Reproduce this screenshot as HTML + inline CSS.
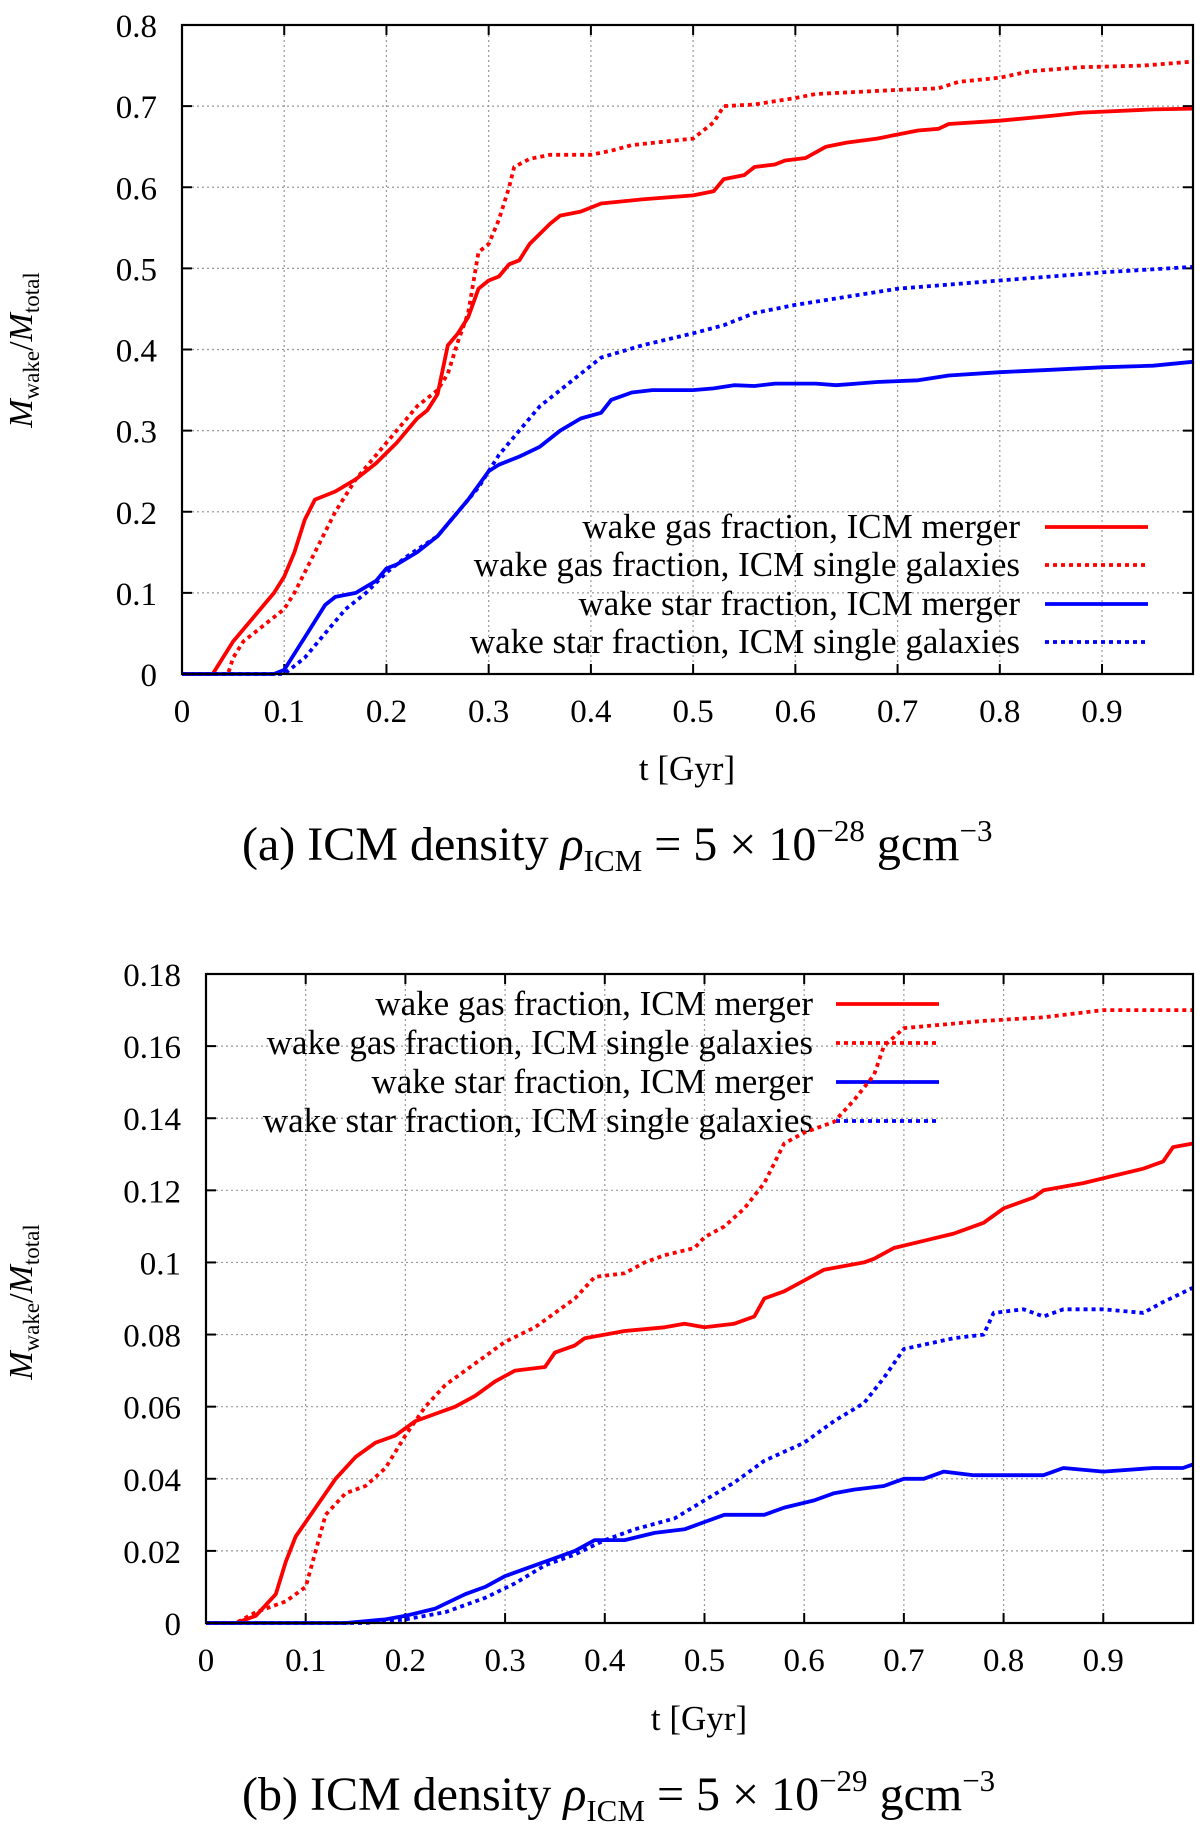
<!DOCTYPE html>
<html><head><meta charset="utf-8">
<style>
html,body{margin:0;padding:0;background:#fff;}
svg text{font-family:"Liberation Serif",serif;fill:#000;}
</style></head>
<body>
<svg id="fig" width="1200" height="1824" viewBox="0 0 1200 1824" xmlns="http://www.w3.org/2000/svg">
<g id="panelA"></g>
<g id="panelB"></g>
<text x="242" y="860" font-size="48">(a)  ICM density <tspan font-style="italic">ρ</tspan><tspan font-size="31" dy="11">ICM</tspan><tspan dy="-11"> = 5 × 10</tspan><tspan font-size="31" dy="-19">−28</tspan><tspan dy="19"> gcm</tspan><tspan font-size="31" dy="-19">−3</tspan></text>
<text x="242" y="1810" font-size="48">(b)  ICM density <tspan font-style="italic">ρ</tspan><tspan font-size="31" dy="11">ICM</tspan><tspan dy="-11"> = 5 × 10</tspan><tspan font-size="31" dy="-19">−29</tspan><tspan dy="19"> gcm</tspan><tspan font-size="31" dy="-19">−3</tspan></text>
</svg>
<script>
// ---- Panel A data ----
const aGasMergerT = [0,0.03,0.04,0.05,0.07,0.09,0.1,0.11,0.12,0.13,0.15,0.17,0.19,0.21,0.23,0.24,0.25,0.26,0.27,0.28,0.29,0.3,0.31,0.32,0.33,0.34,0.36,0.37,0.39,0.41,0.45,0.5,0.52,0.53,0.55,0.56,0.58,0.59,0.61,0.63,0.65,0.68,0.7,0.72,0.74,0.75,0.8,0.85,0.88,0.95,0.99];
const aGasMergerV = [0,0,0.02,0.04,0.07,0.1,0.12,0.15,0.19,0.215,0.225,0.24,0.26,0.285,0.315,0.325,0.345,0.405,0.42,0.44,0.475,0.485,0.49,0.505,0.51,0.53,0.555,0.565,0.57,0.58,0.585,0.59,0.595,0.61,0.615,0.625,0.628,0.633,0.636,0.65,0.655,0.66,0.665,0.67,0.672,0.678,0.682,0.688,0.692,0.696,0.697];
const aGasSingleT = [0,0.045,0.05,0.06,0.08,0.1,0.11,0.13,0.15,0.17,0.19,0.21,0.23,0.25,0.26,0.27,0.28,0.29,0.3,0.31,0.32,0.325,0.34,0.36,0.4,0.42,0.44,0.47,0.5,0.52,0.53,0.56,0.6,0.62,0.7,0.74,0.76,0.8,0.83,0.88,0.94,0.99];
const aGasSingleV = [0,0,0.02,0.04,0.06,0.08,0.1,0.15,0.2,0.24,0.27,0.3,0.33,0.35,0.37,0.41,0.445,0.52,0.53,0.56,0.6,0.625,0.635,0.64,0.64,0.645,0.652,0.656,0.66,0.68,0.7,0.702,0.71,0.715,0.72,0.722,0.73,0.735,0.743,0.748,0.75,0.755];
const aStarMergerT = [0,0.09,0.1,0.11,0.12,0.13,0.14,0.15,0.17,0.19,0.2,0.21,0.23,0.25,0.26,0.27,0.28,0.3,0.31,0.33,0.35,0.37,0.39,0.41,0.42,0.44,0.46,0.5,0.52,0.54,0.56,0.58,0.62,0.64,0.66,0.68,0.72,0.75,0.8,0.85,0.9,0.95,0.99];
const aStarMergerV = [0,0,0.005,0.025,0.045,0.065,0.085,0.095,0.1,0.115,0.13,0.135,0.15,0.17,0.185,0.2,0.215,0.25,0.258,0.268,0.28,0.3,0.315,0.322,0.338,0.347,0.35,0.35,0.352,0.356,0.355,0.358,0.358,0.356,0.358,0.36,0.362,0.368,0.372,0.375,0.378,0.38,0.385];
const aStarSingleT = [0,0.1,0.12,0.14,0.16,0.18,0.2,0.22,0.25,0.27,0.29,0.31,0.33,0.35,0.37,0.39,0.41,0.45,0.5,0.53,0.56,0.6,0.65,0.7,0.75,0.8,0.85,0.9,0.99];
const aStarSingleV = [0,0,0.02,0.05,0.08,0.1,0.125,0.145,0.17,0.2,0.23,0.27,0.3,0.33,0.35,0.37,0.39,0.405,0.42,0.43,0.445,0.455,0.465,0.475,0.48,0.485,0.49,0.495,0.502];
const aYTicks = [0,0.1,0.2,0.3,0.4,0.5,0.6,0.7,0.8];
const aYTickLabels = ["0","0.1","0.2","0.3","0.4","0.5","0.6","0.7","0.8"];
// ---- Panel B data ----
const bGasMergerT = [0,0.03,0.05,0.07,0.08,0.09,0.11,0.13,0.15,0.17,0.19,0.21,0.23,0.25,0.27,0.29,0.31,0.34,0.35,0.37,0.38,0.42,0.46,0.48,0.5,0.53,0.55,0.56,0.58,0.6,0.62,0.66,0.67,0.69,0.72,0.75,0.78,0.8,0.83,0.84,0.88,0.91,0.94,0.96,0.97,0.99];
const bGasMergerV = [0,0,0.002,0.008,0.017,0.024,0.032,0.04,0.046,0.05,0.052,0.056,0.058,0.06,0.063,0.067,0.07,0.071,0.075,0.077,0.079,0.081,0.082,0.083,0.082,0.083,0.085,0.09,0.092,0.095,0.098,0.1,0.101,0.104,0.106,0.108,0.111,0.115,0.118,0.12,0.122,0.124,0.126,0.128,0.132,0.133];
const bGasSingleT = [0,0.03,0.05,0.08,0.1,0.11,0.12,0.14,0.16,0.18,0.2,0.22,0.24,0.27,0.3,0.33,0.35,0.37,0.39,0.42,0.44,0.46,0.49,0.5,0.52,0.54,0.56,0.58,0.6,0.63,0.65,0.67,0.68,0.7,0.74,0.78,0.84,0.9,0.99];
const bGasSingleV = [0,0,0.003,0.006,0.01,0.02,0.03,0.036,0.038,0.043,0.052,0.06,0.066,0.072,0.078,0.082,0.086,0.09,0.096,0.097,0.1,0.102,0.104,0.107,0.11,0.115,0.122,0.133,0.136,0.139,0.145,0.152,0.16,0.165,0.166,0.167,0.168,0.17,0.17];
const bStarMergerT = [0,0.14,0.18,0.2,0.23,0.26,0.28,0.3,0.33,0.35,0.37,0.39,0.42,0.45,0.48,0.5,0.52,0.56,0.58,0.61,0.63,0.65,0.68,0.7,0.72,0.74,0.77,0.8,0.84,0.86,0.9,0.95,0.98,0.99];
const bStarMergerV = [0,0,0.001,0.002,0.004,0.008,0.01,0.013,0.016,0.018,0.02,0.023,0.023,0.025,0.026,0.028,0.03,0.03,0.032,0.034,0.036,0.037,0.038,0.04,0.04,0.042,0.041,0.041,0.041,0.043,0.042,0.043,0.043,0.044];
const bStarSingleT = [0,0.16,0.2,0.24,0.28,0.31,0.34,0.37,0.4,0.43,0.47,0.5,0.53,0.56,0.6,0.63,0.66,0.68,0.7,0.75,0.78,0.79,0.82,0.84,0.86,0.9,0.94,0.96,0.99];
const bStarSingleV = [0,0,0.001,0.003,0.007,0.011,0.016,0.019,0.023,0.026,0.029,0.034,0.039,0.045,0.05,0.056,0.061,0.068,0.076,0.079,0.08,0.086,0.087,0.085,0.087,0.087,0.086,0.089,0.093];
const bYTicks = [0,0.02,0.04,0.06,0.08,0.1,0.12,0.14,0.16,0.18];
const bYTickLabels = ["0","0.02","0.04","0.06","0.08","0.1","0.12","0.14","0.16","0.18"];
const xTicks = [0,0.1,0.2,0.3,0.4,0.5,0.6,0.7,0.8,0.9];
const xTickLabels = ["0","0.1","0.2","0.3","0.4","0.5","0.6","0.7","0.8","0.9"];
const legendLabels = ["wake gas fraction, ICM merger","wake gas fraction, ICM single galaxies","wake star fraction, ICM merger","wake star fraction, ICM single galaxies"];

const NS="http://www.w3.org/2000/svg";
function mk(parent,tag,attrs,text){const e=document.createElementNS(NS,tag);for(const k in attrs)e.setAttribute(k,attrs[k]);if(text!==undefined)e.textContent=text;parent.appendChild(e);return e;}

function drawPanel(g,cfg){
  const {L,T,R,B,xmax,ymax}=cfg;
  const sx=t=>L+(t/xmax)*(R-L);
  const sy=v=>B-(v/ymax)*(B-T);
  xTicks.forEach((t,i)=>{ if(t>0){const l=mk(g,'line',{x1:sx(t),x2:sx(t),y1:T,y2:B,stroke:'#999','stroke-width':1.2,'stroke-dasharray':'2,3'});
    
    }
    const tk=mk(g,'line',{x1:sx(t),x2:sx(t),y1:B,y2:B-10,stroke:'#000','stroke-width':2});
    
    
    const tk2=mk(g,'line',{x1:sx(t),x2:sx(t),y1:T,y2:T+10,stroke:'#000','stroke-width':2});
    
    
    const tx=mk(g,'text',{x:sx(t),y:cfg.xLabY,'font-size':33,'text-anchor':'middle'},xTickLabels[i]);
    
    
  });
  cfg.yTicks.forEach((v,i)=>{ if(v>0&&v<ymax){const l=mk(g,'line',{x1:L,x2:R,y1:sy(v),y2:sy(v),stroke:'#999','stroke-width':1.2,'stroke-dasharray':'2,3'});
    
    }
    const tk=mk(g,'line',{x1:L,x2:L+10,y1:sy(v),y2:sy(v),stroke:'#000','stroke-width':2});
    
    
    const tk2=mk(g,'line',{x1:R,x2:R-10,y1:sy(v),y2:sy(v),stroke:'#000','stroke-width':2});
    
    
    const tx=mk(g,'text',{x:L-25,y:sy(v)+12,'font-size':33,'text-anchor':'end'},cfg.yTickLabels[i]);
    
    
  });
  const lg=mk(g,'g',{});
  
  
  const colors=['#f00','#f00','#00f','#00f'];
  const dashed=[false,true,false,true];
  legendLabels.forEach((lab,i)=>{
    const y=cfg.legY[i];
    const tx=mk(lg,'text',{x:cfg.legTextX,y:y+11,'font-size':35,'text-anchor':'end'},lab);
    
    
  });
  cfg.series.forEach((s,i)=>{
    const pts=s.t.map((t,j)=>sx(t).toFixed(1)+','+sy(s.v[j]).toFixed(1)).join(' ');
    const p=mk(g,'polyline',{points:pts,fill:'none',stroke:colors[i],'stroke-width':3.8,'stroke-linejoin':'round'});
    if(dashed[i])p.setAttribute('stroke-dasharray','4,4');
    
    
  });
  legendLabels.forEach((lab,i)=>{
    const y=cfg.legY[i];
    const l=mk(lg,'line',{x1:cfg.legLineX1,x2:cfg.legLineX2,y1:y,y2:y,stroke:colors[i],'stroke-width':3.8});
    if(dashed[i])l.setAttribute('stroke-dasharray','4,4');
    
    
  });
  const f=mk(g,'rect',{x:L,y:T,width:R-L,height:B-T,fill:'none',stroke:'#000','stroke-width':2.2});
  
  
  const xl=mk(g,'text',{x:cfg.xTitleX,y:cfg.xTitleY,'font-size':35,'text-anchor':'middle'},'t [Gyr]');
  
  
  const yl=mk(g,'text',{x:0,y:0,'font-size':34,'text-anchor':'middle',transform:`translate(32,${cfg.yTitleY}) rotate(-90)`});
  
  
  yl.innerHTML='<tspan font-style="italic">M</tspan><tspan font-size="23" dy="7">wake</tspan><tspan dy="-7">/</tspan><tspan font-style="italic">M</tspan><tspan font-size="23" dy="7">total</tspan>';
}

drawPanel(document.getElementById('panelA'),{L:182,T:25,R:1193,B:674,xmax:0.989,ymax:0.8,
  yTicks:aYTicks,yTickLabels:aYTickLabels,xLabY:722,xTitleX:687,xTitleY:780,yTitleY:350,
  legY:[527,565,604,642],legTextX:1020,legLineX1:1045,legLineX2:1148,
  series:[{t:aGasMergerT,v:aGasMergerV,name:'gas-merger-line'},{t:aGasSingleT,v:aGasSingleV,name:'gas-single-line'},
          {t:aStarMergerT,v:aStarMergerV,name:'star-merger-line'},{t:aStarSingleT,v:aStarSingleV,name:'star-single-line'}]});
drawPanel(document.getElementById('panelB'),{L:206,T:974,R:1193,B:1623,xmax:0.99,ymax:0.18,
  yTicks:bYTicks,yTickLabels:bYTickLabels,xLabY:1671,xTitleX:699,xTitleY:1730,yTitleY:1302,
  legY:[1004,1043,1082,1121],legTextX:813,legLineX1:836,legLineX2:939,
  series:[{t:bGasMergerT,v:bGasMergerV,name:'gas-merger-line'},{t:bGasSingleT,v:bGasSingleV,name:'gas-single-line'},
          {t:bStarMergerT,v:bStarMergerV,name:'star-merger-line'},{t:bStarSingleT,v:bStarSingleV,name:'star-single-line'}]});
</script>
</body></html>
